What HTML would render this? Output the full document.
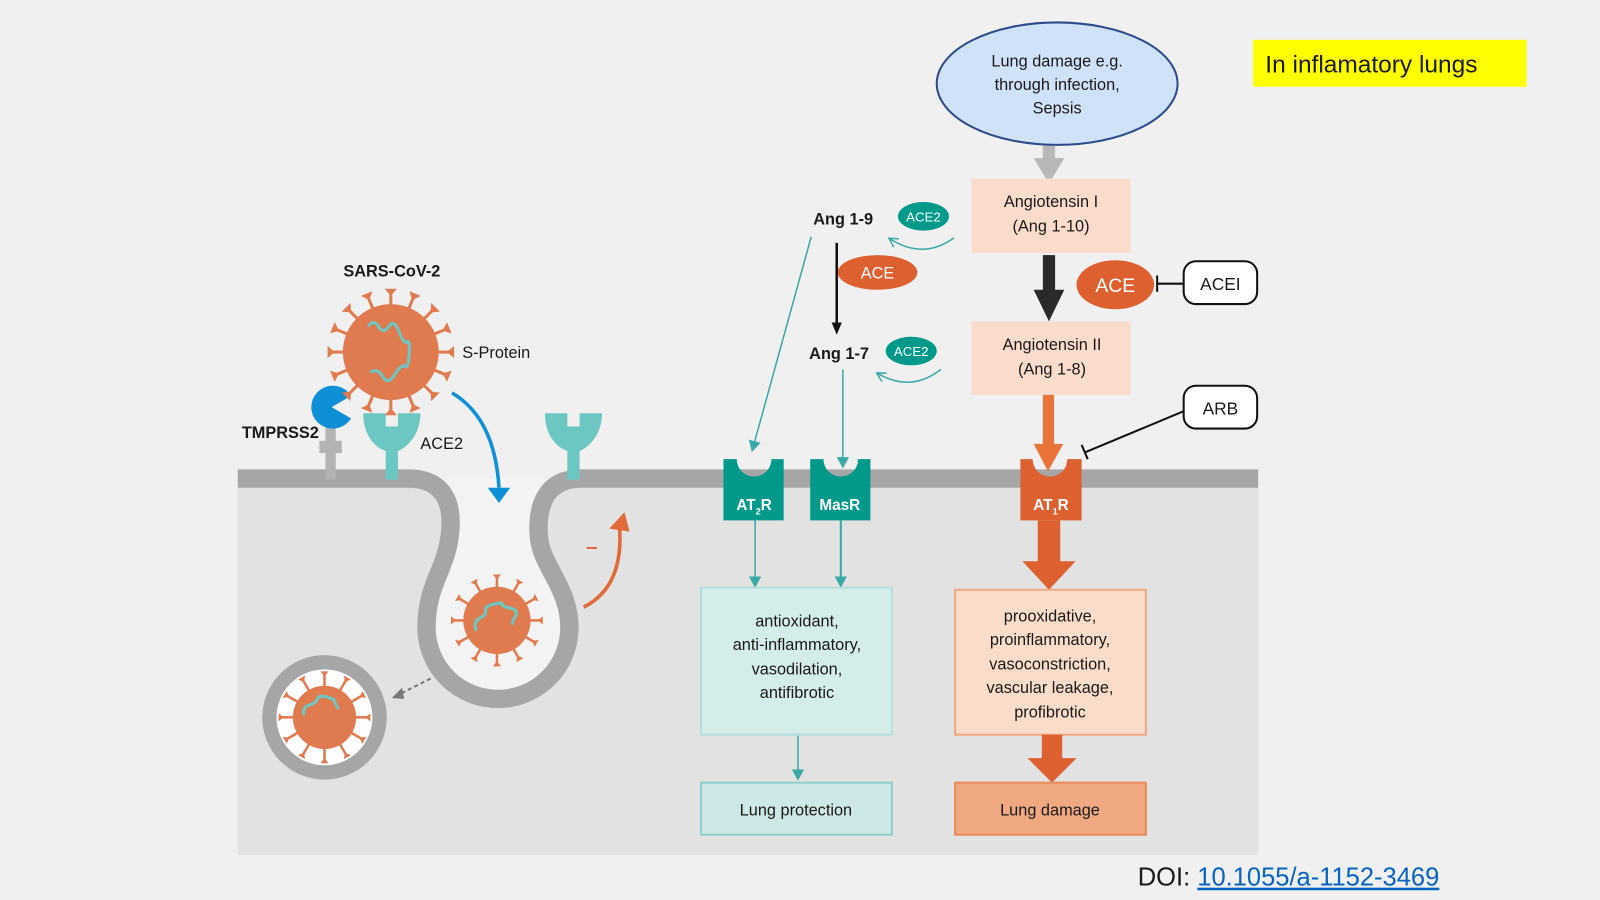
<!DOCTYPE html>
<html><head><meta charset="utf-8"><style>
html,body{margin:0;padding:0;background:#f0f0f0;}
svg{display:block;}
text{font-family:"Liberation Sans",sans-serif;fill:#1a1a1a;}
</style></head><body>
<svg width="1600" height="900" viewBox="0 0 1568 882" xmlns="http://www.w3.org/2000/svg">
<defs>
<g id="sp"><line x1="0" y1="-44" x2="0" y2="-60" stroke="#e07b4f" stroke-width="3"/><path d="M-6,-62 L6,-62 L0,-55 Z" fill="#e07b4f"/></g>
<g id="sps"><line x1="0" y1="-30" x2="0" y2="-43" stroke="#e07b4f" stroke-width="2.5"/><path d="M-4,-45 L4,-45 L0,-40 Z" fill="#e07b4f"/></g>
<marker id="ta" markerWidth="10" markerHeight="10" refX="8" refY="5" orient="auto" markerUnits="userSpaceOnUse"><path d="M0,0 L9,5 L0,10" fill="none" stroke="#3aa9a6" stroke-width="1.5"/></marker>
<marker id="tf" markerWidth="12" markerHeight="12" refX="10" refY="6" orient="auto" markerUnits="userSpaceOnUse"><path d="M0,0 L11,6 L0,12 Z" fill="#3aa9a6"/></marker>
</defs>
<rect width="1568" height="882" fill="#f0f0f0"/>
<rect x="233" y="469" width="1000" height="369" fill="#e2e2e2"/>
<!-- membrane -->
<path d="M408,469 C440,469 445,500 440,530 C435,560 418,575 418,615 A70,70 0 0 0 558,615 C558,575 530,555 528,525 C526,495 535,469 570,469 Z" fill="#f3f3f3"/>
<path d="M233,469 L400,469 C440,469 445,500 440,530 C435,560 418,575 418,615 A70,70 0 0 0 558,615 C558,575 530,555 528,525 C526,495 535,469 570,469 L1233,469" fill="none" stroke="#a6a6a6" stroke-width="18"/>
<!-- TMPRSS2 -->
<rect x="319" y="418" width="10" height="52" fill="#b3b3b3"/><rect x="313" y="432" width="22" height="12" fill="#b3b3b3"/>
<path d="M325,399 L344,388 A21,21 0 1 0 344,410 Z" fill="#0e8fd6"/>
<text x="237" y="429" font-size="16" font-weight="bold">TMPRSS2</text>
<!-- ACE2 receptors -->
<g fill="#6cc6c2">
<path d="M356,405 L378,405 L378,418 L390,418 L390,405 L412,405 C412,425 400,438 390,442 L390,470 L378,470 L378,442 C366,438 356,425 356,405 Z"/>
<path d="M534,405 L556,405 L556,418 L568,418 L568,405 L590,405 C590,425 578,438 568,442 L568,470 L556,470 L556,442 C544,438 534,425 534,405 Z"/>
</g>
<text x="412" y="440" font-size="16">ACE2</text>
<!-- main virus -->
<g transform="translate(383,345)">
<use href="#sp" transform="rotate(0)"/><use href="#sp" transform="rotate(22.5)"/><use href="#sp" transform="rotate(45)"/><use href="#sp" transform="rotate(67.5)"/><use href="#sp" transform="rotate(90)"/><use href="#sp" transform="rotate(112.5)"/><use href="#sp" transform="rotate(135)"/><use href="#sp" transform="rotate(157.5)"/><use href="#sp" transform="rotate(180)"/><use href="#sp" transform="rotate(202.5)"/><use href="#sp" transform="rotate(225)"/><use href="#sp" transform="rotate(247.5)"/><use href="#sp" transform="rotate(270)"/><use href="#sp" transform="rotate(292.5)"/><use href="#sp" transform="rotate(315)"/><use href="#sp" transform="rotate(337.5)"/>
<circle r="47" fill="#e07b4f"/>
<path d="M-22,-25 q5,-8 10,0 t10,0 t10,5 t8,10 t2,12 t-4,12 t-10,8 t-12,2 t-12,-4" fill="none" stroke="#6cc6c2" stroke-width="3"/>
</g>
<text x="384" y="271" font-size="16" font-weight="bold" text-anchor="middle">SARS-CoV-2</text>
<text x="453" y="351" font-size="16" fill="#333">S-Protein</text>
<!-- blue arrow -->
<path d="M443,385 Q485,410 489,478" fill="none" stroke="#0e8fd6" stroke-width="3.5"/>
<path d="M478,478 L500,478 L489,493 Z" fill="#0e8fd6"/>
<!-- bulb virus -->
<g transform="translate(487,608)">
<use href="#sps" transform="rotate(0)"/><use href="#sps" transform="rotate(30)"/><use href="#sps" transform="rotate(60)"/><use href="#sps" transform="rotate(90)"/><use href="#sps" transform="rotate(120)"/><use href="#sps" transform="rotate(150)"/><use href="#sps" transform="rotate(180)"/><use href="#sps" transform="rotate(210)"/><use href="#sps" transform="rotate(240)"/><use href="#sps" transform="rotate(270)"/><use href="#sps" transform="rotate(300)"/><use href="#sps" transform="rotate(330)"/>
<circle r="33" fill="#e07b4f"/>
<path d="M-20,10 q-4,-8 3,-12 t6,-8 t8,-6 t8,0 t8,4 t5,8 t-2,8" fill="none" stroke="#6cc6c2" stroke-width="3"/>
</g>
<!-- orange curved arrow -->
<path d="M572,595 Q612,575 607,515" fill="none" stroke="#e06a3a" stroke-width="3.5"/>
<path d="M597,518 L612,502 L617,521 Z" fill="#e06a3a"/>
<line x1="575" y1="537" x2="585" y2="537" stroke="#e06a3a" stroke-width="2"/>
<!-- vesicle -->
<circle cx="318" cy="703" r="54" fill="#fff" stroke="#a6a6a6" stroke-width="14"/>
<g transform="translate(318,703)">
<use href="#sps" transform="rotate(0)"/><use href="#sps" transform="rotate(30)"/><use href="#sps" transform="rotate(60)"/><use href="#sps" transform="rotate(90)"/><use href="#sps" transform="rotate(120)"/><use href="#sps" transform="rotate(150)"/><use href="#sps" transform="rotate(180)"/><use href="#sps" transform="rotate(210)"/><use href="#sps" transform="rotate(240)"/><use href="#sps" transform="rotate(270)"/><use href="#sps" transform="rotate(300)"/><use href="#sps" transform="rotate(330)"/>
<circle r="31" fill="#e07b4f"/>
<path d="M-20,-2 q-2,-8 5,-10 t8,-6 t9,-2 t8,4 t4,8" fill="none" stroke="#6cc6c2" stroke-width="3"/>
</g>
<path d="M422,665 L392,680" stroke="#777" stroke-width="2" stroke-dasharray="4,3" fill="none"/>
<path d="M384,684 L394,674 L396,685 Z" fill="#777"/>

<!-- top right -->
<rect x="1228" y="39" width="268" height="46" fill="#ffff00"/>
<text x="1240" y="71" font-size="24" fill="#111">In inflamatory lungs</text>
<ellipse cx="1036" cy="82" rx="118" ry="60" fill="#cfe2f7" stroke="#2e4a8a" stroke-width="2"/>
<text font-size="16" text-anchor="middle"><tspan x="1036" y="65">Lung damage e.g.</tspan><tspan x="1036" y="88">through infection,</tspan><tspan x="1036" y="111">Sepsis</tspan></text>
<rect x="1022" y="143" width="12" height="15" fill="#b8b8b8"/><path d="M1013,155 L1043,155 L1028,180 Z" fill="#b8b8b8"/>
<rect x="952" y="175" width="156" height="73" fill="#f9dccb"/>
<text font-size="16" text-anchor="middle"><tspan x="1030" y="203">Angiotensin I</tspan><tspan x="1030" y="227">(Ang 1-10)</tspan></text>
<rect x="1022" y="250" width="12" height="35" fill="#2a2a2a"/><path d="M1013,284 L1043,284 L1028,315 Z" fill="#2a2a2a"/>
<ellipse cx="1093" cy="279" rx="38" ry="24" fill="#dd6030"/>
<text x="1093" y="286" font-size="19" text-anchor="middle" style="fill:#fff">ACE</text>
<line x1="1134" y1="278" x2="1160" y2="278" stroke="#111" stroke-width="2"/><line x1="1134" y1="270" x2="1134" y2="286" stroke="#111" stroke-width="2"/>
<rect x="1160" y="256" width="72" height="42" rx="12" fill="#fff" stroke="#111" stroke-width="2"/>
<text x="1196" y="284" font-size="17" text-anchor="middle">ACEI</text>
<rect x="952" y="315" width="156" height="72" fill="#f9dccb"/>
<text font-size="16" text-anchor="middle"><tspan x="1031" y="343">Angiotensin II</tspan><tspan x="1031" y="367">(Ang 1-8)</tspan></text>
<rect x="1022" y="387" width="11" height="50" fill="#e8743b"/><path d="M1013,435 L1042,435 L1027,462 Z" fill="#e8743b"/>
<rect x="1160" y="378" width="72" height="42" rx="12" fill="#fff" stroke="#111" stroke-width="2"/>
<text x="1196" y="406" font-size="17" text-anchor="middle">ARB</text>
<line x1="1160" y1="403" x2="1064" y2="443" stroke="#111" stroke-width="2"/><line x1="1060" y1="436" x2="1066" y2="450" stroke="#111" stroke-width="2"/>
<!-- AT1R -->
<path d="M1000,450 L1012,450 A17,17 0 0 0 1046,450 L1060,450 L1060,510 L1000,510 Z" fill="#dd6030"/>
<text x="1030" y="500" font-size="15" font-weight="bold" text-anchor="middle" style="fill:#fff">AT<tspan font-size="9" dy="4">1</tspan><tspan dy="-4">R</tspan></text>
<rect x="1017" y="510" width="22" height="42" fill="#dd6030"/><path d="M1002,550 L1054,550 L1028,578 Z" fill="#dd6030"/>
<rect x="936" y="578" width="187" height="142" fill="#fadccb" stroke="#f0a880" stroke-width="2"/>
<text font-size="16" text-anchor="middle"><tspan x="1029" y="609">prooxidative,</tspan><tspan x="1029" y="632">proinflammatory,</tspan><tspan x="1029" y="656">vasoconstriction,</tspan><tspan x="1029" y="679">vascular leakage,</tspan><tspan x="1029" y="703">profibrotic</tspan></text>
<rect x="1021" y="720" width="20" height="25" fill="#dd6030"/><path d="M1007,743 L1055,743 L1031,767 Z" fill="#dd6030"/>
<rect x="936" y="767" width="187" height="51" fill="#f0a882" stroke="#e88a5c" stroke-width="2"/>
<text x="1029" y="799" font-size="16" text-anchor="middle">Lung damage</text>

<!-- left pathway -->
<text x="797" y="220" font-size="16" font-weight="bold" fill="#222">Ang 1-9</text>
<ellipse cx="905" cy="212" rx="25" ry="14" fill="#00998a"/>
<text x="905" y="217" font-size="13" text-anchor="middle" style="fill:#fff">ACE2</text>
<path d="M935,233 Q905,255 872,234" fill="none" stroke="#3aa9a6" stroke-width="1.5" marker-end="url(#ta)"/>
<line x1="820" y1="238" x2="820" y2="318" stroke="#111" stroke-width="2.5"/><path d="M815,316 L825,316 L820,328 Z" fill="#111"/>
<ellipse cx="860" cy="267" rx="39" ry="17" fill="#dd6030"/>
<text x="860" y="273" font-size="16" text-anchor="middle" style="fill:#fff">ACE</text>
<text x="793" y="352" font-size="16" font-weight="bold" fill="#222">Ang 1-7</text>
<ellipse cx="893" cy="344" rx="25" ry="14" fill="#00998a"/>
<text x="893" y="349" font-size="13" text-anchor="middle" style="fill:#fff">ACE2</text>
<path d="M922,362 Q893,385 860,366" fill="none" stroke="#3aa9a6" stroke-width="1.5" marker-end="url(#ta)"/>
<line x1="795" y1="232" x2="737" y2="442" stroke="#3aa9a6" stroke-width="1.5" marker-end="url(#tf)"/>
<line x1="826" y1="362" x2="826" y2="458" stroke="#3aa9a6" stroke-width="1.5" marker-end="url(#tf)"/>
<path d="M709,450 L722,450 A17,17 0 0 0 756,450 L768,450 L768,510 L709,510 Z" fill="#00998a"/>
<text x="739" y="500" font-size="15" font-weight="bold" text-anchor="middle" style="fill:#fff">AT<tspan font-size="9" dy="4">2</tspan><tspan dy="-4">R</tspan></text>
<path d="M794,450 L807,450 A17,17 0 0 0 841,450 L853,450 L853,510 L794,510 Z" fill="#00998a"/>
<text x="823" y="500" font-size="15" font-weight="bold" text-anchor="middle" style="fill:#fff">MasR</text>
<line x1="740" y1="510" x2="740" y2="575" stroke="#3aa9a6" stroke-width="1.5" marker-end="url(#tf)"/>
<line x1="824" y1="510" x2="824" y2="575" stroke="#3aa9a6" stroke-width="2" marker-end="url(#tf)"/>
<rect x="687" y="576" width="187" height="144" fill="#d4ecea" stroke="#b5dedb" stroke-width="2"/>
<text font-size="16" text-anchor="middle"><tspan x="781" y="614">antioxidant,</tspan><tspan x="781" y="637">anti-inflammatory,</tspan><tspan x="781" y="661">vasodilation,</tspan><tspan x="781" y="684">antifibrotic</tspan></text>
<line x1="782" y1="721" x2="782" y2="764" stroke="#3aa9a6" stroke-width="1.5" marker-end="url(#tf)"/>
<rect x="687" y="767" width="187" height="51" fill="#cde8e6" stroke="#8fcfcb" stroke-width="2"/>
<text x="780" y="799" font-size="16" text-anchor="middle">Lung protection</text>

<text x="1115" y="868" font-size="25" fill="#222">DOI: <tspan style="fill:#0563c1" text-decoration="underline">10.1055/a-1152-3469</tspan></text>
</svg>
</body></html>
